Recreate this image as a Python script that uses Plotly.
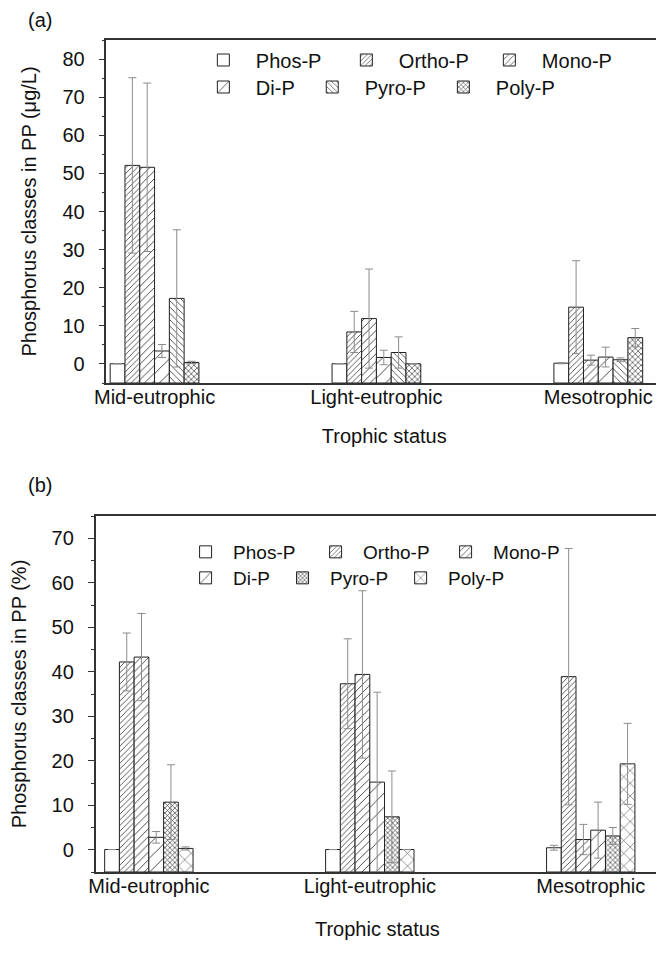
import plotly.graph_objects as go

# ---------------- data ----------------
categories = ["Mid-eutrophic", "Light-eutrophic", "Mesotrophic"]
series_names = ["Phos-P", "Ortho-P", "Mono-P", "Di-P", "Pyro-P", "Poly-P"]

# Panel (a): concentrations (µg/L), mean and SD
a_phos = [0.05, 0.05, 0.2]
a_phos_sd = [None, None, 0.15]
a_ortho = [52.1, 8.4, 14.9]
a_ortho_sd = [23.0, 5.4, 12.2]
a_mono = [51.6, 11.9, 1.0]
a_mono_sd = [22.1, 13.0, 1.3]
a_di = [3.4, 1.7, 1.8]
a_di_sd = [1.7, 1.9, 2.6]
a_pyro = [17.2, 3.0, 1.1]
a_pyro_sd = [18.0, 4.1, 0.5]
a_poly = [0.4, 0.05, 6.9]
a_poly_sd = [0.3, None, 2.4]

# Panel (b): percentages (%), mean and SD
b_phos = [0.05, 0.05, 0.45]
b_phos_sd = [None, None, 0.55]
b_ortho = [42.2, 37.3, 38.9]
b_ortho_sd = [6.5, 10.1, 28.8]
b_mono = [43.3, 39.4, 2.3]
b_mono_sd = [9.8, 18.8, 3.4]
b_di = [2.8, 15.2, 4.4]
b_di_sd = [1.3, 20.2, 6.3]
b_pyro = [10.7, 7.4, 3.1]
b_pyro_sd = [8.4, 10.3, 1.9]
b_poly = [0.3, 0.05, 19.3]
b_poly_sd = [0.35, None, 9.1]

a_values = [a_phos, a_ortho, a_mono, a_di, a_pyro, a_poly]
a_sds = [a_phos_sd, a_ortho_sd, a_mono_sd, a_di_sd, a_pyro_sd, a_poly_sd]
b_values = [b_phos, b_ortho, b_mono, b_di, b_pyro, b_poly]
b_sds = [b_phos_sd, b_ortho_sd, b_mono_sd, b_di_sd, b_pyro_sd, b_poly_sd]

# ---------------- styles ----------------
BASE = -5  # bars start at the bottom of the axis (Origin style)
a_patterns = [
    dict(shape=""),
    dict(shape="/", size=4, solidity=0.2),
    dict(shape="/", size=5.5, solidity=0.16),
    dict(shape="/", size=10, solidity=0.09),
    dict(shape="\\", size=4.5, solidity=0.18),
    dict(shape="x", size=4, solidity=0.3),
]
b_patterns = [
    dict(shape=""),
    dict(shape="/", size=4, solidity=0.2),
    dict(shape="/", size=5.5, solidity=0.16),
    dict(shape="/", size=10, solidity=0.09),
    dict(shape="x", size=3.5, solidity=0.35),
    dict(shape="x", size=9, solidity=0.11),
]
ERR_COLOR = "#8c8c8c"
LINE_COLOR = "#222222"
AXIS_COLOR = "#333333"
FONT = "Liberation Sans, Arial, sans-serif"

fig = go.Figure()


def add_panel(values, sds, patterns, xa, ya, legends):
    for i, name in enumerate(series_names):
        pat = dict(patterns[i])
        pat.update(fgcolor="#333333", bgcolor="white", fillmode="replace")
        fig.add_trace(go.Bar(
            x=categories,
            y=[v - BASE for v in values[i]],
            base=BASE,
            name=name,
            xaxis=xa, yaxis=ya,
            legend=legends[0] if i < 3 else legends[1],
            marker=dict(color="white", line=dict(color=LINE_COLOR, width=1),
                        pattern=pat),
            error_y=dict(type="data", array=sds[i], visible=True,
                         color=ERR_COLOR, thickness=1, width=4),
            hoverinfo="skip",
        ))


add_panel(a_values, a_sds, a_patterns, "x", "y", ["legend", "legend2"])
add_panel(b_values, b_sds, b_patterns, "x2", "y2", ["legend3", "legend4"])

W, H = 664, 964


def fx(px):
    return px / W


def fy(px):
    return 1 - px / H


axis_common = dict(showline=True, mirror=True, linecolor=AXIS_COLOR, linewidth=1.5,
                   showgrid=False, zeroline=False)

xcommon = dict(axis_common, ticks="", tickfont=dict(size=20), ticklabelstandoff=-5)
ycommon = dict(axis_common, ticks="outside", ticklen=6, tickwidth=1.2, tickcolor=AXIS_COLOR,
               tick0=0, dtick=10, tickfont=dict(size=20), ticklabelstandoff=10,
               minor=dict(ticks="outside", ticklen=3, dtick=5, tick0=0, tickcolor=AXIS_COLOR))

legend_common = dict(orientation="h", xanchor="left", yanchor="middle",
                     bgcolor="rgba(0,0,0,0)", traceorder="normal", tracegroupgap=0)

fig.update_layout(
    width=W, height=H,
    margin=dict(l=0, r=0, t=0, b=0),
    paper_bgcolor="white", plot_bgcolor="white",
    font=dict(family=FONT, size=20, color="#111111"),
    barmode="group", bargap=0.6, bargroupgap=0,
    xaxis=dict(xcommon, domain=[fx(88), fx(654)], anchor="y", range=[-0.217, 2.288],
               title=dict(text="Trophic status", font=dict(size=20), standoff=22)),
    yaxis=dict(ycommon, domain=[fy(375), fy(32)], anchor="x", range=[-5, 85],
               title=dict(text="Phosphorus classes in PP (μg/L)", font=dict(size=20), standoff=20)),
    xaxis2=dict(xcommon, domain=[fx(77), fx(651)], anchor="y2", range=[-0.241, 2.31],
                title=dict(text="Trophic status", font=dict(size=20), standoff=26)),
    yaxis2=dict(ycommon, domain=[fy(864), fy(508)], anchor="x2", range=[-5, 75],
                title=dict(text="Phosphorus classes in PP (%)", font=dict(size=20), standoff=20)),
    legend=dict(legend_common, x=fx(174), y=fy(52), itemwidth=55, entrywidth=73,
                font=dict(size=20, family=FONT)),
    legend2=dict(legend_common, x=fx(174), y=fy(79), itemwidth=55, entrywidth=0,
                 font=dict(size=20, family=FONT)),
    legend3=dict(legend_common, x=fx(161), y=fy(544), itemwidth=45, entrywidth=70,
                 font=dict(size=19, family=FONT)),
    legend4=dict(legend_common, x=fx(161), y=fy(570), itemwidth=45, entrywidth=0,
                 font=dict(size=19, family=FONT)),
    showlegend=True,
    annotations=[
        dict(text="(a)", x=fx(6), y=fy(12), xref="paper", yref="paper",
             xanchor="left", yanchor="middle", showarrow=False, font=dict(size=20)),
        dict(text="(b)", x=fx(6), y=fy(477), xref="paper", yref="paper",
             xanchor="left", yanchor="middle", showarrow=False, font=dict(size=20)),
    ],
)

fig.write_html("out.html")
